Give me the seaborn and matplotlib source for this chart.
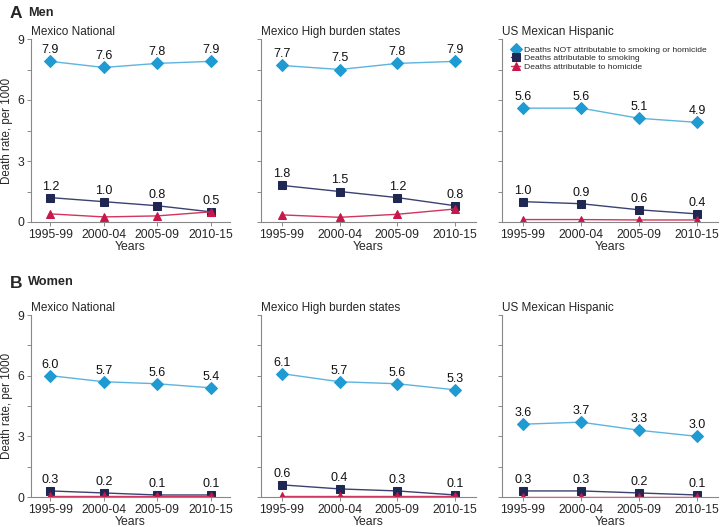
"""Death rates by cause: Mexico vs US Mexican Hispanic, men and women."""

import matplotlib
matplotlib.use("Agg")
import matplotlib.pyplot as plt
import pandas as pd
import seaborn as sns

PERIODS = ["1995-99", "2000-04", "2005-09", "2010-15"]
POPULATIONS = ["Mexico National", "Mexico High burden states", "US Mexican Hispanic"]
SERIES = [
    "Deaths NOT attributable to smoking or homicide",
    "Deaths attributable to smoking",
    "Deaths attributable to homicide",
]

# men
men_other = [[7.9, 7.6, 7.8, 7.9], [7.7, 7.5, 7.8, 7.9], [5.6, 5.6, 5.1, 4.9]]
men_smoking = [[1.2, 1.0, 0.8, 0.5], [1.8, 1.5, 1.2, 0.8], [1.0, 0.9, 0.6, 0.4]]
men_homicide = [[0.4, 0.25, 0.3, 0.5], [0.35, 0.23, 0.38, 0.64], [0.12, 0.12, 0.1, 0.1]]

# women
women_other = [[6.0, 5.7, 5.6, 5.4], [6.1, 5.7, 5.6, 5.3], [3.6, 3.7, 3.3, 3.0]]
women_smoking = [[0.3, 0.2, 0.1, 0.1], [0.6, 0.4, 0.3, 0.1], [0.3, 0.3, 0.2, 0.1]]
women_homicide = [[0.03, 0.03, 0.03, 0.03], [0.03, 0.03, 0.03, 0.03], [0.02, 0.02, 0.02, 0.02]]

STYLES = {
    SERIES[0]: dict(marker="D", line="#5db4de", face="#1e9bd2", ms=6.2, labels=True),
    SERIES[1]: dict(marker="s", line="#3a4270", face="#1f2852", ms=5.5, labels=True),
    SERIES[2]: dict(marker="^", line="#d2345e", face="#c8174a", ms=6.0, labels=False),
}


def build_frame() -> pd.DataFrame:
    rows = []
    for sex, groups in (("Men", (men_other, men_smoking, men_homicide)),
                        ("Women", (women_other, women_smoking, women_homicide))):
        for series, values in zip(SERIES, groups):
            for pop, vals in zip(POPULATIONS, values):
                for period, v in zip(PERIODS, vals):
                    rows.append(dict(sex=sex, series=series, population=pop,
                                     period=period, rate=v))
    return pd.DataFrame(rows)


sns.set_theme(style="white")
plt.rcParams["font.family"] = ["Liberation Sans", "DejaVu Sans"]

df = build_frame()
fig = plt.figure(figsize=(7.22, 5.27), dpi=100)

W, H = 722, 527
cols = [(31, 230), (261, 476), (502, 718)]
rows = [(39, 222), (315, 497)]

for r, sex in enumerate(["Men", "Women"]):
    top, bottom = rows[r]
    for c, pop in enumerate(POPULATIONS):
        left, right = cols[c]
        ax = fig.add_axes([left / W, 1 - bottom / H, (right - left) / W, (bottom - top) / H])
        for series in SERIES:
            st = STYLES[series]
            sub = df[(df.sex == sex) & (df.population == pop) & (df.series == series)]
            sns.lineplot(data=sub, x="period", y="rate", ax=ax, color=st["line"],
                         lw=1.0, marker=st["marker"], markersize=st["ms"],
                         markerfacecolor=st["face"], markeredgecolor=st["face"],
                         label=series, legend=False)
            if st["labels"]:
                for i, v in enumerate(sub["rate"]):
                    ax.text(i, v + 0.25, f"{v:.1f}", ha="center", va="bottom",
                            fontsize=9, color="#111111")

        ax.set_xlim(-0.36, 3.36)
        ax.set_ylim(0, 9)
        ax.set_yticks([0, 1.5, 3, 4.5, 6, 7.5, 9])
        if c == 0:
            ax.set_yticklabels(["0", "", "3", "", "6", "", "9"])
            ax.set_ylabel("Death rate, per 1000", fontsize=8.3, labelpad=3)
        else:
            ax.set_yticklabels([])
            ax.set_ylabel("")
        ax.set_xticks(range(len(PERIODS)))
        ax.set_xticklabels(PERIODS)
        ax.set_xlabel("Years", fontsize=8.8, labelpad=0)
        ax.tick_params(axis="both", which="major", labelsize=8.7, length=3, width=0.6,
                       color="#777777", pad=2, left=True, bottom=True)
        sns.despine(ax=ax)
        for s in ("left", "bottom"):
            ax.spines[s].set_color("#888888")
            ax.spines[s].set_linewidth(0.8)
        ax.set_title(pop, loc="left", fontsize=8.5, pad=3, x=0.0)

        if r == 0 and c == 2:
            ax.legend(loc="upper left", bbox_to_anchor=(0.02, 0.99), frameon=False,
                      fontsize=6.1, handlelength=1.0, handletextpad=0.5,
                      labelspacing=0.05, borderaxespad=0.2)

fig.text(10 / W, 1 - 14 / H, "A", fontsize=12.5, fontweight="bold", va="center")
fig.text(28 / W, 1 - 13 / H, "Men", fontsize=9.2, fontweight="bold", va="center")
fig.text(10 / W, 1 - 283 / H, "B", fontsize=12.5, fontweight="bold", va="center")
fig.text(28 / W, 1 - 282 / H, "Women", fontsize=9.2, fontweight="bold", va="center")

fig.savefig("out.png", dpi=100)
